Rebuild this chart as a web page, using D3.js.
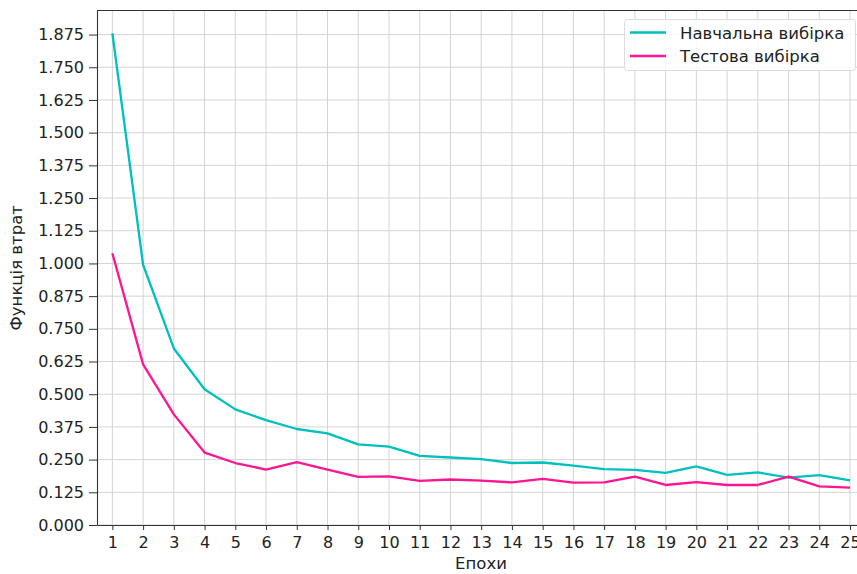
<!DOCTYPE html>
<html>
<head>
<meta charset="utf-8">
<script src="https://cdn.jsdelivr.net/npm/d3@7"></script>
<style>
  body { margin: 0; background: #fff; }
  svg { display: block; font-family: "DejaVu Sans", sans-serif; }
</style>
</head>
<body>
<svg width="857" height="574"></svg>
<script>
// epochs + losses
const epochs = d3.range(1, 26);
const trainLoss = [1.88, 0.995, 0.675, 0.519, 0.442, 0.401, 0.367, 0.350, 0.308, 0.300,
    0.264, 0.258, 0.252, 0.237, 0.239, 0.227, 0.214, 0.211, 0.199, 0.224,
    0.192, 0.201, 0.181, 0.191, 0.171];
const testLoss = [1.039, 0.614, 0.423, 0.277, 0.237, 0.212, 0.240, 0.212, 0.184, 0.186,
    0.169, 0.174, 0.170, 0.163, 0.176, 0.162, 0.163, 0.185, 0.153, 0.164,
    0.153, 0.153, 0.185, 0.148, 0.143];
const yTicks = d3.range(0, 16).map(i => i * 0.125);
const seriesNames = ['Навчальна вибірка', 'Тестова вибірка'];
const seriesColors = ['#00bfbf', '#ff1493'];

const svg = d3.select('svg');
const width = +svg.attr('width');
const height = +svg.attr('height');

const margin = { left: 97, top: 10.5, bottom: 525 };

const x = d3.scaleLinear()
    .domain([0.5, 25.5])
    .range([margin.left, 865.4]);

const y = d3.scaleLinear()
    .domain([0, 1.967])
    .range([margin.bottom, margin.top]);

const textColor = '#222';

// grid
const grid = svg.append('g');
grid.selectAll('.vg')
    .data(epochs)
    .enter().append('line')
        .attr('x1', d => x(d)).attr('x2', d => x(d))
        .attr('y1', margin.top).attr('y2', margin.bottom)
        .attr('stroke', '#cfcfcf')
        .attr('stroke-width', 0.9);
grid.selectAll('.hg')
    .data(yTicks)
    .enter().append('line')
        .attr('x1', margin.left).attr('x2', width)
        .attr('y1', d => y(d)).attr('y2', d => y(d))
        .attr('stroke', '#cfcfcf')
        .attr('stroke-width', 0.9);

// lines
const line = d3.line()
    .x((d, i) => x(epochs[i]))
    .y(d => y(d));

[trainLoss, testLoss].forEach((s, i) => {
    svg.append('path')
        .datum(s)
        .attr('fill', 'none')
        .attr('stroke', seriesColors[i])
        .attr('stroke-width', 2.3)
        .attr('stroke-linejoin', 'round')
        .attr('d', line);
});

// axes
const xAxis = svg.append('g')
    .attr('transform', `translate(0,${margin.bottom})`)
    .call(d3.axisBottom(x).tickValues(epochs).tickFormat(d3.format('d'))
        .tickSize(5).tickPadding(7).tickSizeOuter(0));

const yAxis = svg.append('g')
    .attr('transform', `translate(${margin.left},0)`)
    .call(d3.axisLeft(y).tickValues(yTicks).tickFormat(d3.format('.3f'))
        .tickSize(8).tickPadding(5).tickSizeOuter(0));

[xAxis, yAxis].forEach(a => {
    a.select('.domain').attr('stroke', '#333').attr('stroke-width', 1.1);
    a.selectAll('.tick line').attr('stroke', '#333').attr('stroke-width', 1);
    a.selectAll('.tick text')
        .attr('fill', textColor)
        .style('font-size', '16px')
        .style('font-family', '"DejaVu Sans", sans-serif');
});

// top spine
svg.append('line')
    .attr('x1', margin.left).attr('x2', width)
    .attr('y1', margin.top).attr('y2', margin.top)
    .attr('stroke', '#333').attr('stroke-width', 1.1);

// axis labels
svg.append('text')
    .attr('x', 481)
    .attr('y', 569)
    .attr('text-anchor', 'middle')
    .attr('fill', textColor)
    .style('font-size', '16.5px')
    .text('Епохи');

svg.append('text')
    .attr('transform', `translate(22,${(margin.top + margin.bottom) / 2}) rotate(-90)`)
    .attr('text-anchor', 'middle')
    .attr('fill', textColor)
    .style('font-size', '16.5px')
    .text('Функція втрат');

// legend
const legend = svg.append('g');
legend.append('rect')
    .attr('x', 624.5).attr('y', 19.5)
    .attr('width', 231).attr('height', 51)
    .attr('rx', 3)
    .attr('fill', 'rgba(255,255,255,0.85)')
    .attr('stroke', '#dcdcdc');

seriesNames.forEach((name, i) => {
    const ly = 32.5 + i * 23.5;
    legend.append('line')
        .attr('x1', 630).attr('x2', 666)
        .attr('y1', ly).attr('y2', ly)
        .attr('stroke', seriesColors[i])
        .attr('stroke-width', 2.3);
    legend.append('text')
        .attr('x', 680).attr('y', ly + 6)
        .attr('fill', textColor)
        .style('font-size', '16.5px')
        .text(name);
});
</script>
</body>
</html>
